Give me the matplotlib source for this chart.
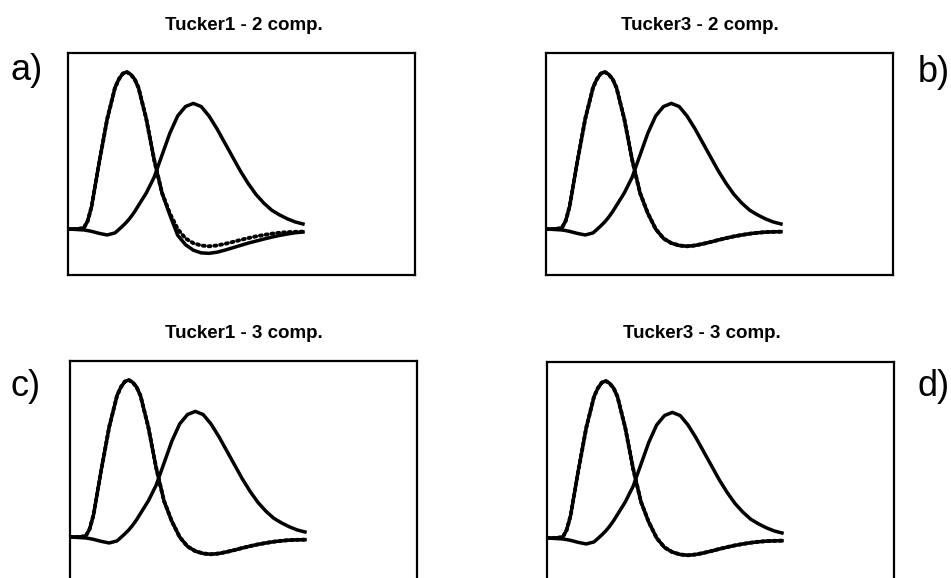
import numpy as np
import matplotlib.pyplot as plt

plt.rcParams['font.family'] = ['Liberation Sans', 'DejaVu Sans']

# channel index (arbitrary units)
x = [0, 2, 4, 5, 6, 8, 10, 12, 13, 14, 15, 16, 17, 18, 20, 22, 24, 26, 28, 30, 32, 34, 36,
     38, 40, 42, 44, 46, 48, 50, 52, 54, 56, 58, 60]

# broad component (same in all panels)
broad = [0, -0.003, -0.006, -0.01, -0.015, -0.028, -0.038, -0.025, -0.003, 0.02, 0.045,
         0.075, 0.11, 0.15, 0.23, 0.33, 0.47, 0.61, 0.72, 0.78, 0.80, 0.78, 0.72, 0.64,
         0.55, 0.46, 0.37, 0.29, 0.22, 0.165, 0.12, 0.09, 0.065, 0.045, 0.032]

# narrow component, true profile (dotted)
narrow_true = [0, 0, 0.005, 0.05, 0.14, 0.43, 0.70, 0.90, 0.955, 0.99, 1.0, 0.985, 0.955,
               0.90, 0.70, 0.44, 0.23, 0.10, 0.0, -0.06, -0.09, -0.105, -0.11, -0.105,
               -0.095, -0.083, -0.07, -0.058, -0.047, -0.038, -0.03, -0.024, -0.02,
               -0.018, -0.017]

# narrow component, Tucker1 2 comp. estimate (deviates after the crossing)
narrow_t1_2 = [0, 0, 0.005, 0.05, 0.14, 0.43, 0.70, 0.90, 0.955, 0.99, 1.0, 0.985, 0.955,
               0.90, 0.70, 0.44, 0.23, 0.09, -0.04, -0.10, -0.135, -0.152, -0.155, -0.148,
               -0.135, -0.12, -0.105, -0.09, -0.077, -0.064, -0.052, -0.041, -0.032,
               -0.024, -0.019]

titles = ['Tucker1 - 2 comp.', 'Tucker3 - 2 comp.', 'Tucker1 - 3 comp.', 'Tucker3 - 3 comp.']
labels = ['a)', 'b)', 'c)', 'd)']
estimates = [narrow_t1_2, narrow_true, narrow_true, narrow_true]

W, H = 951, 578
fig = plt.figure(figsize=(W / 100, H / 100), dpi=100)

# box positions in pixels: left, top; all boxes same size
boxes = [(68, 53), (546, 53), (70, 361), (547, 362)]
bw, bh = 347, 222
title_pos = [(244, 25), (700, 25), (244, 333), (702, 333)]
label_pos = [(10, 70, 'left'), (950, 72, 'right'), (11, 386, 'left'), (950, 386, 'right')]

for i in range(4):
    l, t = boxes[i]
    ax = fig.add_axes([l / W, 1 - (t + bh) / H, bw / W, bh / H])
    ax.plot(x, broad, color='black', lw=2.5, solid_joinstyle='round')
    ax.plot(x, narrow_true, color='black', lw=2.8, ls=(0, (0.5, 1.0)), dash_capstyle='round')
    ax.plot(x, estimates[i], color='black', lw=2.5, solid_joinstyle='round')
    ax.set_xlim(0, 88.6)
    ax.set_ylim(-0.293, 1.121)
    ax.set_xticks([])
    ax.set_yticks([])
    for s in ax.spines.values():
        s.set_linewidth(1.6)
        s.set_color('black')

    tx, ty = title_pos[i]
    fig.text(tx / W, 1 - ty / H, titles[i], ha='center', va='center',
             fontsize=13.5, fontweight='bold')
    lx, ly, ha = label_pos[i]
    fig.text(lx / W, 1 - ly / H, labels[i], ha=ha, va='center', fontsize=26)

fig.savefig('out.png', dpi=100, facecolor='white')
